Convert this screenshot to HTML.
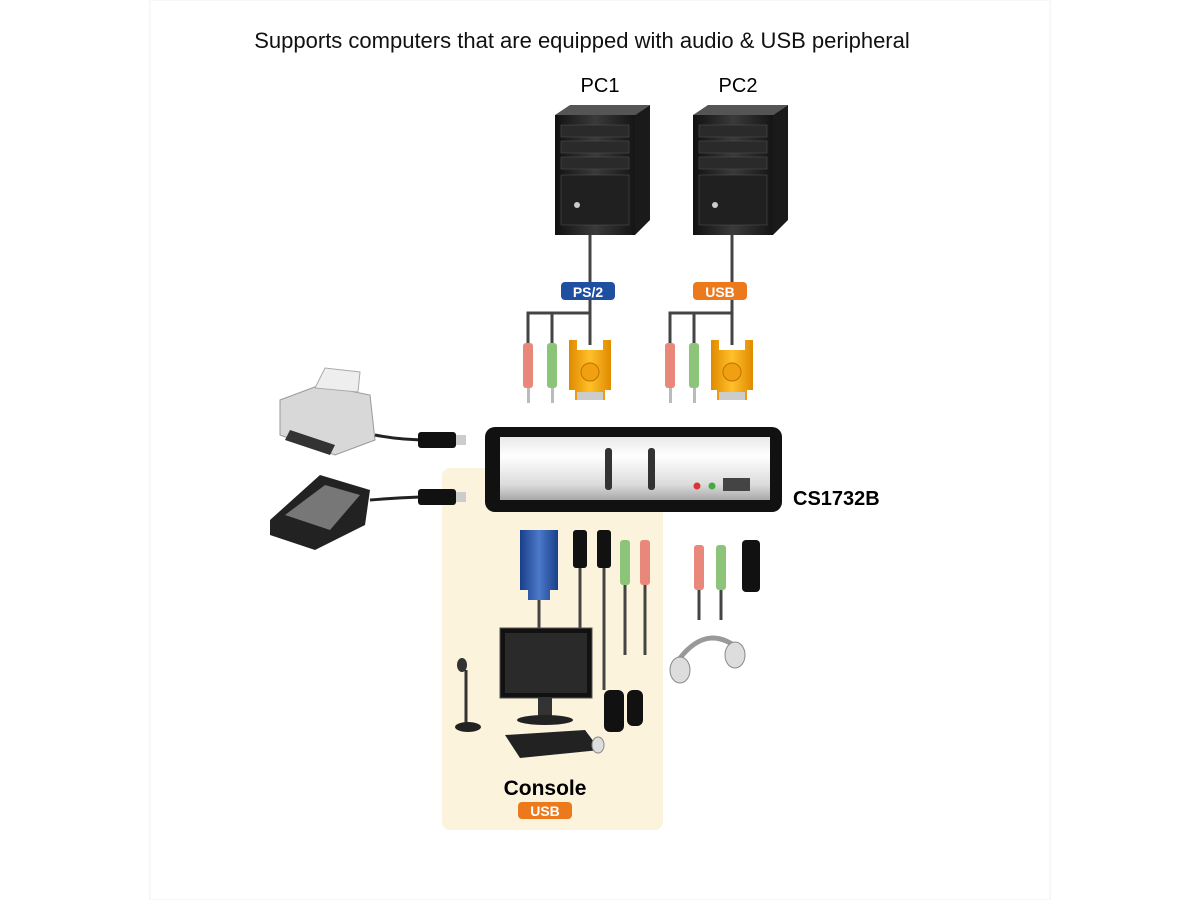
<!DOCTYPE html>
<html><head><meta charset="utf-8"><style>
html,body{margin:0;padding:0;background:#fff;}
svg{display:block;}
text{font-family:"Liberation Sans",sans-serif;}
</style></head><body>
<svg width="1200" height="900" viewBox="0 0 1200 900" xmlns="http://www.w3.org/2000/svg">
<defs>
<linearGradient id="silver" x1="0" y1="0" x2="0" y2="1">
<stop offset="0" stop-color="#e8e8e8"/><stop offset="0.3" stop-color="#ffffff"/><stop offset="0.75" stop-color="#dcdcdc"/><stop offset="1" stop-color="#a8a8a8"/></linearGradient>
<linearGradient id="tower" x1="0" y1="0" x2="1" y2="0">
<stop offset="0" stop-color="#111"/><stop offset="0.5" stop-color="#3a3a3a"/><stop offset="1" stop-color="#151515"/></linearGradient>
<linearGradient id="gold" x1="0" y1="0" x2="1" y2="0">
<stop offset="0" stop-color="#e08a00"/><stop offset="0.5" stop-color="#ffc02a"/><stop offset="1" stop-color="#e08a00"/></linearGradient>
<linearGradient id="blue" x1="0" y1="0" x2="1" y2="0">
<stop offset="0" stop-color="#1a3f8a"/><stop offset="0.5" stop-color="#4b79c9"/><stop offset="1" stop-color="#1a3f8a"/></linearGradient>
<g id="plugs">
<path d="M528 345 V313 H590 M552 345 V313" stroke="#444" stroke-width="3" fill="none"/>
<rect x="523" y="343" width="10" height="45" rx="3" fill="#e8877a"/>
<rect x="527" y="388" width="3" height="15" fill="#bbb"/>
<rect x="547" y="343" width="10" height="45" rx="3" fill="#8cc47a"/>
<rect x="551" y="388" width="3" height="15" fill="#bbb"/>
<path d="M569 340 h8 v10 h26 v-10 h8 v50 h-6 v10 h-30 v-10 h-6 z" fill="url(#gold)"/>
<circle cx="590" cy="372" r="9" fill="#f0a010" stroke="#c07000"/>
<rect x="577" y="392" width="26" height="8" fill="#ccc"/>
</g>
<g id="tower1">
<path d="M0 10 L15 0 H95 L80 10 Z" fill="#555"/>
<rect x="0" y="10" width="80" height="120" fill="url(#tower)"/>
<path d="M80 10 L95 0 V115 L80 130 Z" fill="#1a1a1a"/>
<rect x="6" y="20" width="68" height="12" fill="#2a2a2a" stroke="#555" stroke-width="0.5"/>
<rect x="6" y="36" width="68" height="12" fill="#2a2a2a" stroke="#555" stroke-width="0.5"/>
<rect x="6" y="52" width="68" height="12" fill="#2a2a2a" stroke="#555" stroke-width="0.5"/>
<rect x="6" y="70" width="68" height="50" fill="#202020" stroke="#555" stroke-width="0.5"/>
<circle cx="22" cy="100" r="3" fill="#ccc"/>
</g>
</defs>
<rect x="150" y="0" width="900" height="900" fill="#fff" stroke="#f0f0f0"/>
<text x="582" y="48" font-size="22" text-anchor="middle" fill="#111">Supports computers that are equipped with audio &amp; USB peripheral</text>
<text x="600" y="92" font-size="20" text-anchor="middle">PC1</text>
<text x="738" y="92" font-size="20" text-anchor="middle">PC2</text>
<use href="#tower1" x="555" y="105"/>
<use href="#tower1" x="693" y="105"/>
<line x1="590" y1="235" x2="590" y2="345" stroke="#444" stroke-width="3"/>
<line x1="732" y1="235" x2="732" y2="345" stroke="#444" stroke-width="3"/>
<use href="#plugs"/>
<use href="#plugs" x="142"/>
<rect x="561" y="282" width="54" height="18" rx="4" fill="#1f4fa0"/>
<text x="588" y="297" font-size="14" font-weight="bold" fill="#fff" text-anchor="middle">PS/2</text>
<rect x="693" y="282" width="54" height="18" rx="4" fill="#ec7a1c"/>
<text x="720" y="297" font-size="14" font-weight="bold" fill="#fff" text-anchor="middle">USB</text>
<rect x="442" y="468" width="221" height="362" rx="8" fill="#fbf3dc"/>
<rect x="485" y="427" width="297" height="85" rx="10" fill="#111"/>
<rect x="500" y="437" width="270" height="63" fill="url(#silver)"/>
<rect x="605" y="448" width="7" height="42" rx="3" fill="#333"/>
<rect x="648" y="448" width="7" height="42" rx="3" fill="#333"/>
<circle cx="697" cy="486" r="3.5" fill="#d33"/><circle cx="712" cy="486" r="3.5" fill="#4a4"/>
<rect x="723" y="478" width="27" height="13" fill="#444"/>
<text x="793" y="505" font-size="20" font-weight="bold">CS1732B</text>
<path d="M280 400 L320 385 L370 395 L375 440 L335 455 L280 435 Z" fill="#d8d8d8" stroke="#999"/>
<path d="M315 388 L325 368 L360 372 L358 392 Z" fill="#eee" stroke="#aaa"/>
<path d="M290 430 L335 445 L330 455 L285 440 Z" fill="#333"/>
<path d="M375 435 Q400 440 430 440" stroke="#222" stroke-width="3" fill="none"/>
<rect x="418" y="432" width="38" height="16" rx="3" fill="#111"/>
<rect x="456" y="435" width="10" height="10" fill="#ccc"/>
<path d="M270 520 L320 475 L370 490 L365 525 L315 550 L270 535 Z" fill="#222"/>
<path d="M285 515 L325 485 L360 495 L330 530 Z" fill="#777"/>
<path d="M370 500 Q395 498 420 497" stroke="#222" stroke-width="3" fill="none"/>
<rect x="418" y="489" width="38" height="16" rx="3" fill="#111"/>
<rect x="456" y="492" width="10" height="10" fill="#ccc"/>
<path d="M520 530 h38 v60 h-8 v10 h-22 v-10 h-8 z" fill="url(#blue)"/>
<line x1="539" y1="600" x2="539" y2="630" stroke="#444" stroke-width="3"/>
<rect x="573" y="530" width="14" height="38" rx="3" fill="#111"/>
<line x1="580" y1="568" x2="580" y2="640" stroke="#444" stroke-width="3"/>
<rect x="597" y="530" width="14" height="38" rx="3" fill="#111"/>
<line x1="604" y1="568" x2="604" y2="690" stroke="#444" stroke-width="3"/>
<rect x="620" y="540" width="10" height="45" rx="3" fill="#8cc47a"/>
<line x1="625" y1="585" x2="625" y2="655" stroke="#444" stroke-width="3"/>
<rect x="640" y="540" width="10" height="45" rx="3" fill="#e8877a"/>
<line x1="645" y1="585" x2="645" y2="655" stroke="#444" stroke-width="3"/>
<rect x="694" y="545" width="10" height="45" rx="3" fill="#e8877a"/>
<rect x="716" y="545" width="10" height="45" rx="3" fill="#8cc47a"/>
<line x1="699" y1="590" x2="699" y2="620" stroke="#444" stroke-width="3"/>
<line x1="721" y1="590" x2="721" y2="620" stroke="#444" stroke-width="3"/>
<rect x="742" y="540" width="18" height="52" rx="4" fill="#111"/>
<path d="M675 665 Q705 620 740 650" stroke="#999" stroke-width="5" fill="none"/>
<ellipse cx="680" cy="670" rx="10" ry="13" fill="#ddd" stroke="#888"/>
<ellipse cx="735" cy="655" rx="10" ry="13" fill="#ddd" stroke="#888"/>
<rect x="500" y="628" width="92" height="70" fill="#111" stroke="#555"/>
<rect x="505" y="633" width="82" height="60" fill="#2a2a2a"/>
<rect x="538" y="698" width="14" height="18" fill="#333"/>
<ellipse cx="545" cy="720" rx="28" ry="5" fill="#222"/>
<path d="M505 735 L585 730 L600 750 L520 758 Z" fill="#222"/>
<ellipse cx="598" cy="745" rx="6" ry="8" fill="#ddd" stroke="#888"/>
<line x1="466" y1="670" x2="466" y2="725" stroke="#333" stroke-width="3"/>
<ellipse cx="462" cy="665" rx="5" ry="7" fill="#333"/>
<ellipse cx="468" cy="727" rx="13" ry="5" fill="#222"/>
<rect x="604" y="690" width="20" height="42" rx="6" fill="#111"/>
<rect x="627" y="690" width="16" height="36" rx="6" fill="#111"/>
<text x="545" y="795" font-size="21" font-weight="bold" text-anchor="middle">Console</text>
<rect x="518" y="802" width="54" height="17" rx="4" fill="#ec7a1c"/>
<text x="545" y="816" font-size="14" font-weight="bold" fill="#fff" text-anchor="middle">USB</text>
</svg>
</body></html>
